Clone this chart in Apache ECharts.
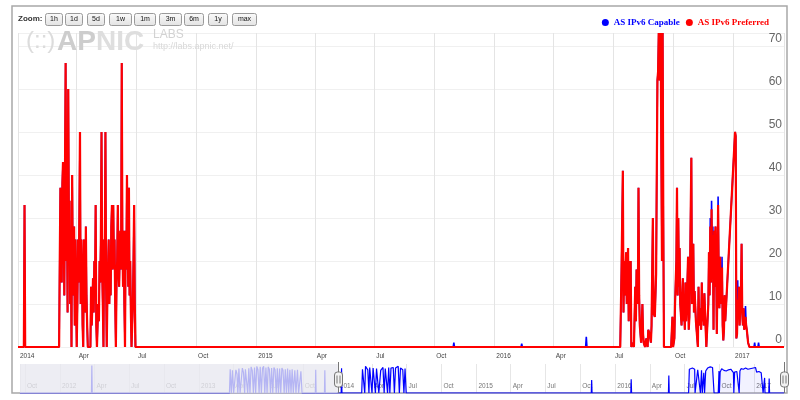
<!DOCTYPE html>
<html>
<head>
<meta charset="utf-8">
<title>AS IPv6 Capable / Preferred</title>
<script src="https://cdn.jsdelivr.net/npm/echarts@6.0.0/dist/echarts.min.js"></script>
<style>
html, body { margin: 0; padding: 0; background: #fff; }
#chart { width: 800px; height: 400px; }
</style>
</head>
<body>
<div id="chart"></div>
<script>
var seriesNames = ['AS IPv6 Capable', 'AS IPv6 Preferred'];
var monthLabels = ['Jan', 'Feb', 'Mar', 'Apr', 'May', 'Jun', 'Jul', 'Aug', 'Sep', 'Oct', 'Nov', 'Dec'];
var zoomLabels = ['1h', '1d', '5d', '1w', '1m', '3m', '6m', '1y', 'max'];

var viewStart = '2014-01-01';
var viewEnd = '2017-03-20';
var overviewStart = '2011-09-18';
var yMax = 73;
var yStep = 10;
var navMax = 100;

// single spike in January 2014 (both series the same)
var janDates = ['2014-01-10', '2014-01-11', '2014-01-12'];
var janValues = [0, 33, 0];

// spring 2014 burst, one reading per day from burst2014Start; capable and preferred overlap here
var burst2014Start = '2014-03-05';
var burst2014 = [
    0, 20, 37, 30, 15, 38, 43, 30, 12, 40,
    66, 20, 35, 8, 60, 28, 34, 10, 25, 0,
    40, 18, 12, 28, 5, 25, 12, 0, 10, 25,
    15, 30, 50, 10, 25, 18, 5, 0, 25, 15,
    8, 28, 12, 5, 0, 0, 0, 0, 0, 14,
    5, 10, 16, 8, 20, 12, 33, 5, 0, 0,
    10, 6, 20, 15, 25, 50, 18, 10, 0, 25,
    20, 50, 15, 0, 12, 18, 25, 10, 20, 12,
    28, 33, 18, 33, 20, 25, 10, 0, 15, 20,
    33, 18, 14, 22, 27, 18, 66, 25, 14, 27,
    10, 0, 27, 18, 40, 25, 14, 37, 12, 20,
    8, 0, 0, 10, 20, 33, 10, 0
];

// late 2015 to early 2017
var recentDates = [
    '2015-10-30', '2015-10-31', '2015-11-01', '2016-02-11', '2016-02-12', '2016-02-13',
    '2016-05-20', '2016-05-21', '2016-05-22',
    '2016-07-12', '2016-07-14', '2016-07-16', '2016-07-17', '2016-07-18', '2016-07-19',
    '2016-07-21', '2016-07-22', '2016-07-24', '2016-07-25', '2016-07-26', '2016-07-27',
    '2016-07-28', '2016-07-29', '2016-07-31', '2016-08-02', '2016-08-04', '2016-08-05',
    '2016-08-06', '2016-08-08', '2016-08-09', '2016-08-10', '2016-08-11', '2016-08-13',
    '2016-08-15', '2016-08-16', '2016-08-17', '2016-08-19', '2016-08-21', '2016-08-23',
    '2016-08-24', '2016-08-26', '2016-08-28', '2016-08-29', '2016-08-31', '2016-09-01',
    '2016-09-03', '2016-09-05', '2016-09-06', '2016-09-07', '2016-09-08', '2016-09-09',
    '2016-09-10', '2016-09-11', '2016-09-12', '2016-09-13', '2016-09-14', '2016-09-15',
    '2016-09-16', '2016-09-17', '2016-09-28', '2016-09-30', '2016-10-01', '2016-10-03',
    '2016-10-04', '2016-10-06', '2016-10-07', '2016-10-08', '2016-10-09', '2016-10-10',
    '2016-10-11', '2016-10-12', '2016-10-14', '2016-10-15', '2016-10-16', '2016-10-17',
    '2016-10-18', '2016-10-19', '2016-10-20', '2016-10-21', '2016-10-22', '2016-10-24',
    '2016-10-25', '2016-10-26', '2016-10-27', '2016-10-29', '2016-10-30', '2016-10-31',
    '2016-11-01', '2016-11-02', '2016-11-03', '2016-11-05', '2016-11-07', '2016-11-08',
    '2016-11-09', '2016-11-10', '2016-11-12', '2016-11-13', '2016-11-14', '2016-11-15',
    '2016-11-16', '2016-11-17', '2016-11-18', '2016-11-19', '2016-11-21', '2016-11-23',
    '2016-11-24', '2016-11-25', '2016-11-26', '2016-11-27', '2016-11-28', '2016-11-29',
    '2016-11-30', '2016-12-01', '2016-12-02', '2016-12-03', '2016-12-04', '2016-12-05',
    '2016-12-06', '2016-12-07', '2016-12-08', '2016-12-09', '2016-12-10', '2016-12-11',
    '2016-12-12', '2016-12-13', '2016-12-14', '2016-12-15', '2016-12-16', '2016-12-17',
    '2016-12-18', '2016-12-19', '2016-12-20', '2017-01-04', '2017-01-05', '2017-01-06',
    '2017-01-07', '2017-01-08', '2017-01-09', '2017-01-10', '2017-01-11', '2017-01-12',
    '2017-01-13', '2017-01-14', '2017-01-15', '2017-01-16', '2017-01-17', '2017-01-18',
    '2017-01-19', '2017-01-20', '2017-01-21', '2017-01-22', '2017-01-24', '2017-01-26',
    '2017-02-02', '2017-02-03', '2017-02-04', '2017-02-08', '2017-02-09', '2017-02-10'
];
var recentPreferred = [
    0, 0, 0, 0, 0, 0,
    0, 0, 0,
    0, 18, 41, 8, 20, 12,
    22, 10, 23, 6, 20, 8,
    20, 0, 1, 0, 14, 6,
    18, 10, 37, 12, 5, 1,
    10, 3, 1, 0, 2, 0,
    4, 3, 1, 5, 30, 8,
    7, 17, 40, 62, 64, 73,
    62, 64, 73, 45, 20, 73,
    30, 0, 0, 7, 0, 2,
    10, 20, 37, 12, 30, 14,
    23, 10, 5, 12, 16, 6,
    9, 4, 15, 6, 10, 21,
    4, 7, 18, 44, 10, 22,
    24, 8, 13, 6, 2, 0,
    14, 5, 9, 4, 15, 6,
    11, 5, 12.5, 8, 0, 0,
    10, 22, 12, 28, 15, 32,
    16, 26, 4, 27, 14, 28,
    20, 3, 16, 33, 16, 9,
    21, 12.5, 10, 18.5, 5, 1.5,
    4, 12, 6, 50, 49, 2,
    3, 11, 7, 14, 5, 10,
    12, 24, 8, 5, 9, 4,
    6, 7, 5, 4, 1, 0,
    0, 0, 0, 0, 0, 0
];
var recentCapable = [
    0, 1, 0, 0, 0.8, 0,
    0, 2.4, 0,
    0, 18, 41, 8, 20, 12,
    22, 10, 23, 6, 20, 8,
    20, 0, 1, 0, 14, 6,
    18, 10, 37, 12, 5, 1,
    10, 3, 1, 0, 2, 0,
    4, 3, 1, 5, 30, 8,
    7, 17, 40, 62, 64, 73,
    62, 64, 73, 45, 20, 73,
    30, 0, 0, 7, 0, 2,
    10, 20, 37, 12, 30, 14,
    23, 10, 5, 12, 16, 6,
    9, 4, 15, 6, 10, 21,
    4, 7, 18, 44, 10, 22,
    24, 8, 13, 6, 2, 0,
    14, 5, 9, 4, 15, 6,
    11, 5, 12.5, 8, 0, 0,
    10, 22, 12, 30, 15, 34,
    16, 28, 4, 27, 14, 28,
    20, 3, 16, 35, 16, 9,
    21, 12.5, 10, 21, 5, 1.5,
    4, 12, 6, 50, 49, 2,
    3, 15.5, 7, 14, 5, 10,
    12, 24, 8, 5, 9, 4,
    6, 9.5, 5, 4, 1, 0,
    0, 1, 0, 0, 1, 0
];

// navigator overview, on its own scale (0 - navMax)
var navDates = [
    '2011-09-18', '2012-03-24', '2012-03-25', '2012-03-26',
    '2013-03-22', '2013-03-24', '2013-03-27', '2013-03-30', '2013-04-02', '2013-04-06',
    '2013-04-08', '2013-04-11', '2013-04-13', '2013-04-16', '2013-04-19', '2013-04-23',
    '2013-04-25', '2013-04-28', '2013-05-01', '2013-05-03', '2013-05-06', '2013-05-09',
    '2013-05-12', '2013-05-15', '2013-05-18', '2013-05-21', '2013-05-24', '2013-05-27',
    '2013-05-30', '2013-06-02', '2013-06-05', '2013-06-08', '2013-06-11', '2013-06-14',
    '2013-06-17', '2013-06-20', '2013-06-23', '2013-06-26', '2013-06-29', '2013-07-02',
    '2013-07-05', '2013-07-08', '2013-07-11', '2013-07-14', '2013-07-17', '2013-07-20',
    '2013-07-23', '2013-07-26', '2013-07-29', '2013-08-01', '2013-08-04', '2013-08-07',
    '2013-08-10', '2013-08-13', '2013-08-16', '2013-08-19', '2013-08-22', '2013-08-25',
    '2013-08-28', '2013-08-31', '2013-09-03', '2013-09-06', '2013-09-10', '2013-09-13',
    '2013-09-17', '2013-09-20', '2013-09-26', '2013-09-29', '2013-11-03', '2013-11-04',
    '2013-11-05', '2013-11-27', '2013-11-28', '2013-11-29', '2014-01-10', '2014-01-11',
    '2014-01-12', '2014-03-05', '2014-03-07', '2014-03-10', '2014-03-13', '2014-03-15',
    '2014-03-18', '2014-03-21', '2014-03-24', '2014-03-26', '2014-03-29', '2014-04-01',
    '2014-04-04', '2014-04-07', '2014-04-10', '2014-04-13', '2014-04-16', '2014-04-19',
    '2014-04-22', '2014-04-24', '2014-04-27', '2014-04-30', '2014-05-03', '2014-05-06',
    '2014-05-09', '2014-05-12', '2014-05-15', '2014-05-18', '2014-05-21', '2014-05-24',
    '2014-05-27', '2014-05-30', '2014-06-02', '2014-06-05', '2014-06-09', '2014-06-12',
    '2014-06-15', '2014-06-18', '2014-06-21', '2014-06-24', '2014-06-27', '2014-06-30',
    '2015-10-30', '2015-10-31', '2015-11-01', '2016-02-11', '2016-02-12', '2016-02-13',
    '2016-05-20', '2016-05-21', '2016-05-22', '2016-07-12', '2016-07-14', '2016-07-16',
    '2016-07-19', '2016-07-22', '2016-07-25', '2016-07-28', '2016-07-29', '2016-08-03',
    '2016-08-05', '2016-08-09', '2016-08-12', '2016-08-15', '2016-08-17', '2016-08-21',
    '2016-08-23', '2016-08-26', '2016-08-29', '2016-08-31', '2016-09-03', '2016-09-07',
    '2016-09-10', '2016-09-13', '2016-09-16', '2016-09-17', '2016-09-28', '2016-09-30',
    '2016-10-01', '2016-10-03', '2016-10-07', '2016-10-10', '2016-10-13', '2016-10-16',
    '2016-10-19', '2016-10-22', '2016-10-25', '2016-10-28', '2016-10-31', '2016-11-03',
    '2016-11-07', '2016-11-08', '2016-11-10', '2016-11-13', '2016-11-16', '2016-11-19',
    '2016-11-22', '2016-11-24', '2016-11-27', '2016-11-30', '2016-12-03', '2016-12-06',
    '2016-12-09', '2016-12-12', '2016-12-15', '2016-12-18', '2016-12-20', '2017-01-04',
    '2017-01-07', '2017-01-10', '2017-01-13', '2017-01-16', '2017-01-19', '2017-01-22',
    '2017-01-24', '2017-01-27', '2017-01-28', '2017-01-29', '2017-02-08', '2017-02-09',
    '2017-02-10', '2017-03-20'
];
var navValues = [
    0, 0, 95, 0,
    0, 82, 0, 78, 0, 0,
    80, 65, 0, 84, 0, 0,
    86, 70, 0, 82, 88, 0,
    85, 0, 90, 78, 0, 88,
    0, 92, 80, 0, 90, 0,
    85, 92, 0, 88, 0, 90,
    82, 0, 86, 0, 88, 80,
    0, 85, 0, 84, 0, 86,
    78, 0, 82, 0, 84, 0,
    80, 0, 82, 0, 78, 0,
    80, 0, 75, 0, 0, 80,
    0, 0, 78, 0, 0, 85,
    0, 0, 82, 88, 0, 92,
    86, 80, 0, 88, 84, 0,
    86, 90, 0, 84, 80, 0,
    0, 78, 82, 88, 0, 84,
    90, 0, 88, 0, 86, 90,
    88, 0, 86, 84, 92, 0,
    86, 88, 80, 0, 84, 0,
    0, 45, 0, 0, 47, 0,
    0, 60, 0, 0, 82, 88,
    80, 86, 84, 82, 0, 0,
    80, 86, 0, 78, 0, 70,
    0, 76, 80, 86, 84, 90,
    92, 88, 84, 0, 0, 76,
    0, 72, 84, 82, 78, 80,
    76, 74, 80, 86, 82, 76,
    70, 0, 72, 76, 74, 78,
    0, 76, 84, 80, 82, 78,
    86, 80, 82, 76, 78, 88,
    72, 78, 74, 76, 70, 68,
    0, 0, 52, 0, 0, 50,
    0, 0
];

var DAY = 24 * 3600 * 1000;
function ts(s) { return echarts.number.parseDate(s).getTime(); }

function buildMain(recentValues) {
    var pts = [[ts(viewStart), 0]];
    janDates.forEach(function (d, i) { pts.push([ts(d), janValues[i]]); });
    var t0 = ts(burst2014Start);
    burst2014.forEach(function (v, i) { pts.push([t0 + i * DAY, v]); });
    recentDates.forEach(function (d, i) { pts.push([ts(d), recentValues[i]]); });
    pts.push([ts(viewEnd), 0]);
    return pts;
}
var capableData = buildMain(recentCapable);
var preferredData = buildMain(recentPreferred);
var navData = navDates.map(function (d, i) { return [ts(d), navValues[i]]; });
var maskData = [[ts(overviewStart), navMax], [ts(viewStart), navMax]];

function quarterLabel(val) {
    var d = new Date(val);
    return d.getMonth() === 0 ? String(d.getFullYear()) : monthLabels[d.getMonth()];
}

var font = 'Liberation Sans';
var quarter = 92 * DAY;

var chart = echarts.init(document.getElementById('chart'));
var option = {
    animation: false,
    backgroundColor: '#fff',
    legend: {
        data: [
            {name: seriesNames[0], textStyle: {color: '#0000ff'}},
            {name: seriesNames[1], textStyle: {color: '#ff0000'}}
        ],
        right: 26,
        top: 13,
        icon: 'circle',
        itemWidth: 7,
        itemHeight: 7,
        itemGap: 6,
        textStyle: {fontFamily: 'Liberation Serif', fontSize: 9, fontWeight: 'bold'}
    },
    grid: [
        {left: 18, right: 16, top: 33, bottom: 53},
        {left: 20, right: 16, top: 364, bottom: 7}
    ],
    xAxis: [
        {
            type: 'time', gridIndex: 0,
            min: viewStart, max: viewEnd,
            minInterval: quarter, maxInterval: quarter,
            axisLine: {show: false},
            axisTick: {show: false},
            splitLine: {show: true, lineStyle: {color: '#e4e4e4'}},
            axisLabel: {
                formatter: quarterLabel, align: 'left', padding: [0, 0, 0, 2],
                margin: 6, fontSize: 6.5, color: '#444', fontFamily: font,
                showMinLabel: true, showMaxLabel: false, hideOverlap: false
            }
        },
        {
            type: 'time', gridIndex: 1,
            min: overviewStart, max: viewEnd,
            minInterval: quarter, maxInterval: quarter,
            axisLine: {show: true, lineStyle: {color: '#b2b1c6', width: 1}},
            axisTick: {show: false},
            splitLine: {show: true, lineStyle: {color: '#e6e6e6'}},
            axisLabel: {
                inside: true, formatter: quarterLabel, align: 'left', padding: [0, 0, 0, 2],
                margin: 3, fontSize: 6.5, color: '#777', fontFamily: font,
                showMinLabel: false, showMaxLabel: false, hideOverlap: false
            }
        }
    ],
    yAxis: [
        {
            type: 'value', gridIndex: 0, position: 'right',
            min: 0, max: yMax, interval: yStep,
            axisLine: {show: false},
            axisTick: {show: false},
            splitLine: {lineStyle: {color: '#f0f0f0'}},
            axisLabel: {
                inside: true, margin: 2, verticalAlign: 'bottom', padding: [0, 0, 1, 0],
                fontSize: 12, color: '#666', fontFamily: font, showMaxLabel: false
            }
        },
        {type: 'value', gridIndex: 1, min: 0, max: navMax, show: false}
    ],
    series: [
        {
            name: seriesNames[0], type: 'line', xAxisIndex: 0, yAxisIndex: 0,
            data: capableData, color: '#0000ff', showSymbol: false, symbol: 'none',
            lineStyle: {width: 1.6, color: '#0000ff'}, z: 2
        },
        {
            name: seriesNames[1], type: 'line', xAxisIndex: 0, yAxisIndex: 0,
            data: preferredData, color: '#ff0000', showSymbol: false, symbol: 'none',
            lineStyle: {width: 2.2, color: '#ff0000'}, z: 3
        },
        {
            name: 'navigator', type: 'line', xAxisIndex: 1, yAxisIndex: 1,
            data: navData, symbol: 'none', silent: true,
            lineStyle: {width: 1.2, color: '#0000ff'},
            areaStyle: {color: 'rgba(0,0,255,0.07)'}, z: 2
        },
        {
            name: 'mask', type: 'line', xAxisIndex: 1, yAxisIndex: 1,
            data: maskData, symbol: 'none', silent: true,
            lineStyle: {width: 0},
            areaStyle: {color: 'rgba(232,232,240,0.78)', opacity: 1}, z: 6
        }
    ]
};
chart.setOption(option);

// decorations: frame, watermark, zoom buttons, navigator handles
var elements = [
    {type: 'rect', shape: {x: 12, y: 6, width: 775, height: 387},
     style: {fill: 'none', stroke: '#a8a8a8', lineWidth: 1.5}, silent: true},
    {type: 'text', x: 26, y: 41, style: {text: '(::)', fill: '#dcdcdc', font: '24px ' + font, verticalAlign: 'middle'}},
    {type: 'text', x: 57, y: 42, style: {text: 'AP', fill: '#cdcdcd', font: 'bold 28px ' + font, verticalAlign: 'middle'}},
    {type: 'text', x: 96, y: 42, style: {text: 'NIC', fill: '#dedede', font: 'bold 28px ' + font, verticalAlign: 'middle'}},
    {type: 'text', x: 153, y: 35, style: {text: 'LABS', fill: '#d2d2d2', font: '12px ' + font, verticalAlign: 'middle'}},
    {type: 'text', x: 153, y: 47, style: {text: 'http://labs.apnic.net/', fill: '#d8d8d8', font: '9px ' + font, verticalAlign: 'middle'}},
    {type: 'text', x: 18, y: 19, style: {text: 'Zoom:', fill: '#333', font: 'bold 8px ' + font, verticalAlign: 'middle'}}
];

var buttonLeft = [45, 65, 87, 109, 134, 159, 184, 208, 232];
var buttonWidth = [17, 17, 17, 22, 21, 22, 19, 19, 24];
zoomLabels.forEach(function (label, i) {
    elements.push({
        type: 'rect',
        shape: {x: buttonLeft[i] + 0.5, y: 13.5, width: buttonWidth[i], height: 12, r: 2},
        style: {
            fill: {type: 'linear', x: 0, y: 0, x2: 0, y2: 1,
                   colorStops: [{offset: 0, color: '#fbfbfb'}, {offset: 1, color: '#e2e2e2'}]},
            stroke: '#9a9a9a', lineWidth: 1
        }
    });
    elements.push({
        type: 'text', x: buttonLeft[i] + buttonWidth[i] / 2 + 0.5, y: 19.5,
        style: {text: label, fill: '#111', font: '7px ' + font, align: 'center', verticalAlign: 'middle'}
    });
});

var navTop = chart.convertToPixel({yAxisIndex: 1}, navMax);
var navBottom = chart.convertToPixel({yAxisIndex: 1}, 0);
var navMid = (navTop + navBottom) / 2 + 1;
[viewStart, viewEnd].forEach(function (d) {
    var x = Math.round(chart.convertToPixel({xAxisIndex: 1}, ts(d))) + 0.5;
    elements.push({type: 'line', shape: {x1: x, y1: navTop - 2, x2: x, y2: navBottom},
                   style: {stroke: '#777', lineWidth: 1}, z: 10});
    elements.push({type: 'rect', shape: {x: x - 4, y: navMid - 7.5, width: 8, height: 15, r: 3},
                   style: {fill: '#f2f2f2', stroke: '#777', lineWidth: 1}, z: 11});
    elements.push({type: 'line', shape: {x1: x - 1.5, y1: navMid - 4, x2: x - 1.5, y2: navMid + 4},
                   style: {stroke: '#777', lineWidth: 1}, z: 12});
    elements.push({type: 'line', shape: {x1: x + 1.5, y1: navMid - 4, x2: x + 1.5, y2: navMid + 4},
                   style: {stroke: '#777', lineWidth: 1}, z: 12});
});

chart.setOption({graphic: {elements: elements}});
</script>
</body>
</html>
